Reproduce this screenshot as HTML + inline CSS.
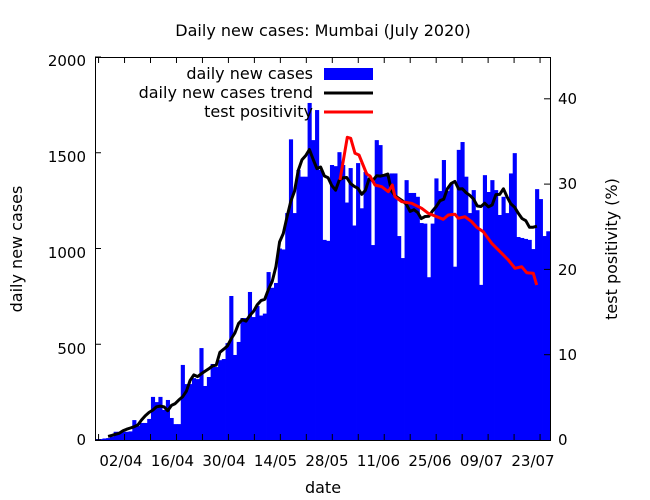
<!DOCTYPE html>
<html><head><meta charset="utf-8"><style>
body{margin:0;background:#fff}
svg{display:block;font-family:"DejaVu Sans","Liberation Sans",sans-serif}
</style></head><body>
<svg id="s" width="650" height="500" viewBox="0 0 650 500" xmlns="http://www.w3.org/2000/svg">
<rect width="650" height="500" fill="#fff"/>
<g id="bars" fill="#0000ff"></g>
<polyline id="trend" fill="none" stroke="#000" stroke-width="3" stroke-linejoin="round"/>
<polyline fill="none" stroke="#ff0000" stroke-width="3" stroke-linejoin="round" points="340,180 347.3,137.3 350.7,138.3 355,153.3 359,155 366.7,174 370,176 375,185 381.7,186.7 388.3,191.7 392.3,185 395,196.7 401.7,201.7 411.7,203.3 421.7,208.3 428.3,213.3 435,216 443.3,219.3 448.3,215 455,214.3 458.3,218.3 465,216.7 471.7,221.7 476.7,227.3 483.3,231.7 491.7,243.3 501.7,253.3 508.3,260 515,268.3 521.7,266.7 526.7,272.7 533.3,273.3 536.7,285"/>
<rect x="95.5" y="57.5" width="455" height="383" fill="none" stroke="#000" stroke-width="1"/>
<g id="ticks" stroke="#000" stroke-width="1"></g>
<g font-size="15" fill="#000">
<text x="323" y="36" text-anchor="middle" font-size="16">Daily new cases: Mumbai (July 2020)</text>
<g text-anchor="end">
<text x="86" y="445">0</text>
<text x="86" y="354">500</text>
<text x="86" y="258">1000</text>
<text x="86" y="162">1500</text>
<text x="86" y="66">2000</text>
</g>
<g text-anchor="start">
<text x="558" y="445">0</text>
<text x="558" y="360">10</text>
<text x="558" y="275">20</text>
<text x="558" y="189">30</text>
<text x="558" y="104">40</text>
</g>
<g text-anchor="middle">
<text x="121" y="466">02/04</text>
<text x="172.5" y="466">16/04</text>
<text x="224" y="466">30/04</text>
<text x="275.5" y="466">14/05</text>
<text x="327" y="466">28/05</text>
<text x="378.5" y="466">11/06</text>
<text x="430" y="466">25/06</text>
<text x="481.5" y="466">09/07</text>
<text x="533" y="466">23/07</text>
<text x="323" y="493" font-size="16">date</text>
</g>
<text transform="translate(22,249) rotate(-90)" text-anchor="middle" font-size="16">daily new cases</text>
<text transform="translate(617,249) rotate(-90)" text-anchor="middle" font-size="16">test positivity (%)</text>
<g text-anchor="end" font-size="16">
<text x="313" y="79">daily new cases</text>
<text x="313" y="98">daily new cases trend</text>
<text x="313" y="117">test positivity</text>
</g>
</g>
<rect x="324" y="68" width="49" height="12" fill="#0000ff"/>
<line x1="324" y1="93" x2="373" y2="93" stroke="#000" stroke-width="3"/>
<line x1="324" y1="112" x2="373" y2="112" stroke="#ff0000" stroke-width="3"/>
</svg>
<script>
var d=[5,5,8,10,17,43,43,43,43,45,104,73,89,89,110,225,198,225,157,209,115,83,83,392,292,292,323,318,480,282,329,397,381,417,423,506,752,444,512,637,637,773,642,700,650,660,877,795,820,1000,995,1185,1570,1185,1410,1375,1375,1760,1566,1723,1410,1045,1040,1436,1430,1503,1436,1240,1420,1120,1446,1210,1400,1366,1018,1566,1540,1383,1383,1392,1392,1065,950,1357,1290,1290,1270,1133,1130,850,1130,1366,1300,1462,1300,1340,905,1515,1556,1375,1185,1305,1200,810,1383,1295,1357,1305,1175,1270,1185,1392,1498,1060,1055,1050,1045,997,1310,1258,1065,1090];
var NS="http://www.w3.org/2000/svg",w=455/122,g=document.getElementById('bars');
function Y(v){return 440-v*383/2000;}
for(var i=0;i<d.length;i++){var r=document.createElementNS(NS,'rect');r.setAttribute('x',95+i*w);r.setAttribute('width',w+0.4);r.setAttribute('y',Y(d[i]));r.setAttribute('height',440-Y(d[i]));g.appendChild(r);}
var p=[];for(i=3;i<=118;i++){var s=0;for(var j=-3;j<=3;j++)s+=d[i+j];p.push((95+(i+0.5)*w).toFixed(1)+','+Y(s/7).toFixed(1));}
document.getElementById('trend').setAttribute('points',p.join(' '));
var t=document.getElementById('ticks'),h='';
function L(a,b,c,e){h+='<line x1="'+a+'" y1="'+b+'" x2="'+c+'" y2="'+e+'"/>';}
for(var k=0;k<=4;k++){var y=440-k*95.75;L(95,y,101,y);}
for(k=1;k<=4;k++){var y2=440-k*85.3;L(550,y2,544,y2);}
for(k=-9;k<=8;k++){var x=332.3+25.97*k;L(x,57,x,63);L(x,440,x,434);}
t.innerHTML=h;
</script>
</body></html>
